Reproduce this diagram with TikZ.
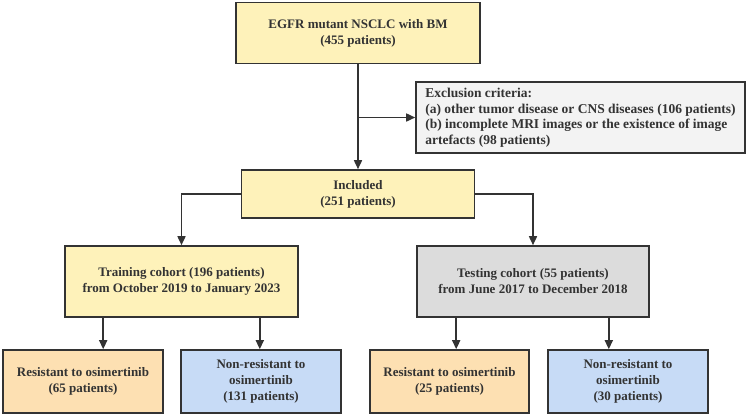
\documentclass[tikz,border=0pt]{standalone}
\usepackage{fontspec}
\setmainfont{Liberation Serif}
\usepackage{xcolor}
\usepackage{tikz}
\usetikzlibrary{arrows.meta,calc,positioning}

\definecolor{boxline}{HTML}{333333}
\definecolor{fillyellow}{HTML}{FEF2BA}
\definecolor{fillorange}{HTML}{FDE0B2}
\definecolor{fillblue}{HTML}{C7DBF6}
\definecolor{fillgray}{HTML}{DCDCDC}
\definecolor{fillexcl}{HTML}{F3F3F3}

\tikzset{
  flowbox/.style={draw=boxline,line width=1.6pt,align=center,inner sep=2pt,
    text=boxline,font=\fontsize{13}{16}\selectfont\bfseries},
  flowarrow/.style={draw=boxline,line width=1.6pt,-{Triangle[length=9pt,width=8pt]}}
}

\begin{document}
\begin{tikzpicture}[x=1pt,y=-1pt]
  \useasboundingbox (0,0) rectangle (748,416);
  % boxes
  \node[flowbox,fill=fillyellow,minimum width=244pt,minimum height=61pt] (all) at (358,33)
    {EGFR mutant NSCLC with BM\\(455 patients)};
  \node[flowbox,fill=fillexcl,minimum width=329pt,minimum height=71pt,align=left,
    font=\fontsize{13.5}{15.5}\selectfont\bfseries] (excl) at (580.5,117.5)
    {Exclusion criteria:\\(a) other tumor disease or CNS diseases (106 patients)\\
     (b) incomplete MRI images or the existence of image\\artefacts (98 patients)};
  \node[flowbox,fill=fillyellow,minimum width=233pt,minimum height=48pt] (incl) at (358,194)
    {Included\\(251 patients)};
  \node[flowbox,fill=fillyellow,minimum width=233pt,minimum height=71pt] (train) at (181.5,281.5)
    {Training cohort (196 patients)\\from October 2019 to January 2023};
  \node[flowbox,fill=fillgray,minimum width=232pt,minimum height=71pt] (test) at (533,281.5)
    {Testing cohort (55 patients)\\from June 2017 to December 2018};
  \node[flowbox,fill=fillorange,minimum width=160pt,minimum height=63pt] (trainres) at (83,381.5)
    {Resistant to osimertinib\\(65 patients)};
  \node[flowbox,fill=fillblue,minimum width=160pt,minimum height=63pt] (trainnon) at (261,381.5)
    {Non-resistant to\\osimertinib\\(131 patients)};
  \node[flowbox,fill=fillorange,minimum width=159pt,minimum height=63pt] (testres) at (449.5,381.5)
    {Resistant to osimertinib\\(25 patients)};
  \node[flowbox,fill=fillblue,minimum width=160pt,minimum height=63pt] (testnon) at (628,381.5)
    {Non-resistant to\\osimertinib\\(30 patients)};

  % connectors
  \coordinate (split) at (all.south |- excl.west);
  \draw[flowarrow] (all.south) -- (incl.north);
  \draw[flowarrow] (split) -- (excl.west);
  \draw[flowarrow] (incl.west) -| (train.north);
  \draw[flowarrow] (incl.east) -| (test.north);
  \draw[flowarrow] ([xshift=39pt]train.south west) -- ([xshift=39pt]train.south west |- trainres.north);
  \draw[flowarrow] ([xshift=-39pt]train.south east) -- ([xshift=-39pt]train.south east |- trainnon.north);
  \draw[flowarrow] ([xshift=40pt]test.south west) -- ([xshift=40pt]test.south west |- testres.north);
  \draw[flowarrow] ([xshift=-41pt]test.south east) -- ([xshift=-41pt]test.south east |- testnon.north);
\end{tikzpicture}
\end{document}
